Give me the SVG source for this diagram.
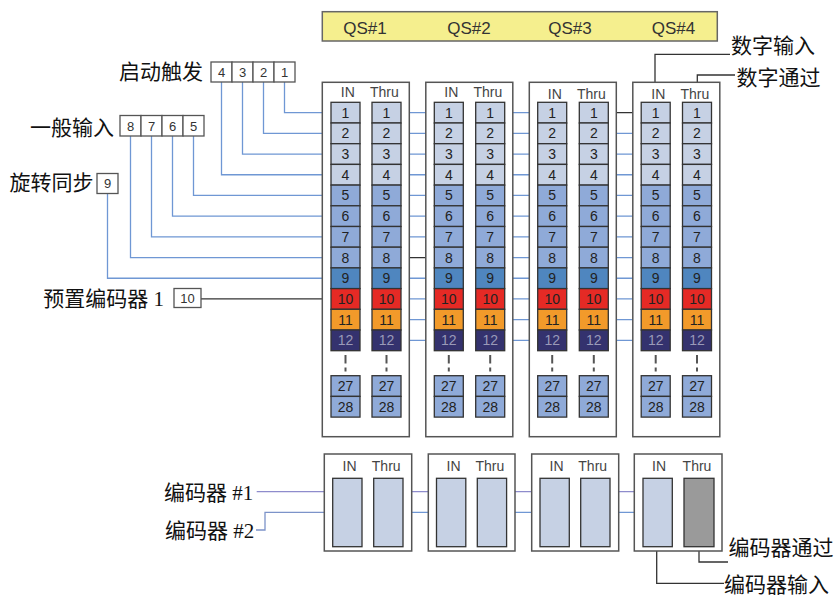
<svg xmlns="http://www.w3.org/2000/svg" width="834" height="602" viewBox="0 0 834 602">
<defs>
<style>
.mod{fill:#fff;stroke:#555;stroke-width:1.5}
.cell{stroke:#333;stroke-width:1.3}
.c1{fill:#c6d1e4}.c5{fill:#8faad8}.c9{fill:#4f86bf}.c10{fill:#e52a25}.c11{fill:#f29a2a}.c12{fill:#34326e}.cg{fill:#9a9a9a}.cb{fill:#c6d1e4}
.n{font-family:"Liberation Sans",Arial,sans-serif;font-size:14px;fill:#222;text-anchor:middle}
.n12{fill:#9a9ab8}
.hd{font-family:"Liberation Sans",Arial,sans-serif;font-size:14px;fill:#444;text-anchor:middle}
.qs{font-family:"Liberation Sans",Arial,sans-serif;font-size:17px;fill:#333;text-anchor:middle}
.lb{font-family:"Liberation Serif","Noto Sans CJK SC",serif;font-size:21px;fill:#111}
.bx{fill:#fff;stroke:#555;stroke-width:1.3}
.bn{font-family:"Liberation Sans",Arial,sans-serif;font-size:13px;fill:#333;text-anchor:middle}
.bl{fill:none;stroke:#6f97d4;stroke-width:1.3}
.bk{fill:none;stroke:#333;stroke-width:1.3}
.pu{fill:none;stroke:#8e8ccc;stroke-width:1.3}
.ds{stroke:#555;stroke-width:2}
</style>
</defs>

<g id="qs-bar">
<rect x="322.3" y="11.7" width="395" height="29.3" fill="#f5ef8e" stroke="#666" stroke-width="1.5"/>
<text class="qs" x="365" y="33.5">QS#1</text>
<text class="qs" x="469" y="33.5">QS#2</text>
<text class="qs" x="570" y="33.5">QS#3</text>
<text class="qs" x="673.5" y="33.5">QS#4</text>
</g>

<g id="connectors">
<polyline class="bl" points="284.5,82 284.5,112.65 331,112.65"/>
<polyline class="bl" points="263.5,82 263.5,133.35 331,133.35"/>
<polyline class="bl" points="242.5,82 242.5,154.05 331,154.05"/>
<polyline class="bl" points="221.5,82 221.5,174.75 331,174.75"/>
<polyline class="bl" points="193.5,136 193.5,195.45 331,195.45"/>
<polyline class="bl" points="172.5,136 172.5,216.15 331,216.15"/>
<polyline class="bl" points="151.5,136 151.5,236.85 331,236.85"/>
<polyline class="bl" points="130.5,136 130.5,257.55 331,257.55"/>
<polyline class="bl" points="107.5,193.5 107.5,278.25 331,278.25"/>
<line class="bk" x1="201" y1="298.95" x2="331" y2="298.95"/>
<path class="bl" d="M401,112.65H434.2M401,133.35H434.2M401,154.05H434.2M401,174.75H434.2M401,195.45H434.2M401,216.15H434.2M401,236.85H434.2M401,278.25H434.2M401,298.95H434.2M401,319.65H434.2M401,340.35H434.2"/>
<line class="bk" x1="401" y1="257.55" x2="434.2" y2="257.55"/>
<path class="bl" d="M504.7,112.65H537.7M504.7,133.35H537.7M504.7,154.05H537.7M504.7,174.75H537.7M504.7,195.45H537.7M504.7,216.15H537.7M504.7,236.85H537.7M504.7,257.55H537.7M504.7,278.25H537.7M504.7,298.95H537.7M504.7,319.65H537.7M504.7,340.35H537.7"/>
<path class="bl" d="M608.3,133.35H641.2M608.3,154.05H641.2M608.3,174.75H641.2M608.3,195.45H641.2M608.3,216.15H641.2M608.3,236.85H641.2M608.3,257.55H641.2M608.3,278.25H641.2M608.3,298.95H641.2M608.3,319.65H641.2M608.3,340.35H641.2"/>
<line class="bk" x1="608.3" y1="112.65" x2="641.2" y2="112.65"/>
<polyline class="bk" points="655,82.3 655,54.3 730,54.3"/>
<polyline class="bk" points="697.3,82.3 697.3,75 735,75"/>
<line class="pu" x1="256.7" y1="491.7" x2="332.5" y2="491.7"/>
<polyline fill="none" stroke="#7c93c9" stroke-width="1.3" points="256,530 265,530 265,512.3 332.5,512.3"/>
<path class="pu" d="M403,491.7H436.5M506.5,491.7H540M610,491.7H643"/>
<path class="bl" d="M403,512.3H436.5M506.5,512.3H540M610,512.3H643"/>
<polyline class="bk" points="699,546.7 699,562 728,562"/>
<polyline class="bk" points="656.7,546.7 656.7,583.3 724,583.3"/>
</g>

<g id="label-trigger">
<text class="lb" x="203" y="78.7" text-anchor="end">启动触发</text>
<rect class="bx" x="211" y="62" width="21" height="20"/><text class="bn" x="221.5" y="76.7">4</text>
<rect class="bx" x="232" y="62" width="21" height="20"/><text class="bn" x="242.5" y="76.7">3</text>
<rect class="bx" x="253" y="62" width="21" height="20"/><text class="bn" x="263.5" y="76.7">2</text>
<rect class="bx" x="274" y="62" width="21" height="20"/><text class="bn" x="284.5" y="76.7">1</text>
</g>
<g id="label-general">
<text class="lb" x="114" y="134.7" text-anchor="end">一般输入</text>
<rect class="bx" x="120" y="115.5" width="21" height="20.5"/><text class="bn" x="130.5" y="130.5">8</text>
<rect class="bx" x="141" y="115.5" width="21" height="20.5"/><text class="bn" x="151.5" y="130.5">7</text>
<rect class="bx" x="162" y="115.5" width="21" height="20.5"/><text class="bn" x="172.5" y="130.5">6</text>
<rect class="bx" x="183" y="115.5" width="21" height="20.5"/><text class="bn" x="193.5" y="130.5">5</text>
</g>
<g id="label-sync">
<text class="lb" x="93.5" y="189.7" text-anchor="end">旋转同步</text>
<rect class="bx" x="97" y="173.5" width="21" height="20"/><text class="bn" x="107.5" y="188.2">9</text>
</g>
<g id="label-preset">
<text class="lb" x="164" y="305.5" text-anchor="end">预置编码器 1</text>
<rect class="bx" x="174" y="288.5" width="27" height="19"/><text class="bn" x="187.5" y="302.7">10</text>
</g>
<g id="label-digital">
<text class="lb" x="731" y="53">数字输入</text>
<text class="lb" x="736.5" y="85.3">数字通过</text>
</g>
<g id="label-encoders">
<text class="lb" x="164" y="499.7">编码器 #1</text>
<text class="lb" x="165" y="538">编码器 #2</text>
<text class="lb" x="728.5" y="555.3">编码器通过</text>
<text class="lb" x="724" y="592">编码器输入</text>
</g>

<g id="qs1">
<rect class="mod" x="322.3" y="82.3" width="87" height="354.4"/>
<text class="hd" x="347.8" y="96.8">IN</text><text class="hd" x="384.3" y="96.8">Thru</text>
<g transform="translate(331,0)">
<rect class="cell c1" x="0" y="102.3" width="29" height="20.7"/><text class="n" x="14.5" y="117.6">1</text>
<rect class="cell c1" x="0" y="123" width="29" height="20.7"/><text class="n" x="14.5" y="138.3">2</text>
<rect class="cell c1" x="0" y="143.7" width="29" height="20.7"/><text class="n" x="14.5" y="159">3</text>
<rect class="cell c1" x="0" y="164.4" width="29" height="20.7"/><text class="n" x="14.5" y="179.7">4</text>
<rect class="cell c5" x="0" y="185.1" width="29" height="20.7"/><text class="n" x="14.5" y="200.4">5</text>
<rect class="cell c5" x="0" y="205.8" width="29" height="20.7"/><text class="n" x="14.5" y="221.1">6</text>
<rect class="cell c5" x="0" y="226.5" width="29" height="20.7"/><text class="n" x="14.5" y="241.8">7</text>
<rect class="cell c5" x="0" y="247.2" width="29" height="20.7"/><text class="n" x="14.5" y="262.5">8</text>
<rect class="cell c9" x="0" y="267.9" width="29" height="20.7"/><text class="n" x="14.5" y="283.2">9</text>
<rect class="cell c10" x="0" y="288.6" width="29" height="20.7"/><text class="n" x="14.5" y="303.9">10</text>
<rect class="cell c11" x="0" y="309.3" width="29" height="20.7"/><text class="n" x="14.5" y="324.6">11</text>
<rect class="cell c12" x="0" y="330" width="29" height="20.7"/><text class="n n12" x="14.5" y="345.3">12</text>
<line class="ds" x1="14.5" y1="355" x2="14.5" y2="363.5"/><line class="ds" x1="14.5" y1="367.5" x2="14.5" y2="371.5"/>
<rect class="cell c5" x="0" y="375.7" width="29" height="20.7"/><text class="n" x="14.5" y="391">27</text>
<rect class="cell c5" x="0" y="396.4" width="29" height="20.7"/><text class="n" x="14.5" y="411.7">28</text>
</g>
<g transform="translate(372,0)">
<rect class="cell c1" x="0" y="102.3" width="29" height="20.7"/><text class="n" x="14.5" y="117.6">1</text>
<rect class="cell c1" x="0" y="123" width="29" height="20.7"/><text class="n" x="14.5" y="138.3">2</text>
<rect class="cell c1" x="0" y="143.7" width="29" height="20.7"/><text class="n" x="14.5" y="159">3</text>
<rect class="cell c1" x="0" y="164.4" width="29" height="20.7"/><text class="n" x="14.5" y="179.7">4</text>
<rect class="cell c5" x="0" y="185.1" width="29" height="20.7"/><text class="n" x="14.5" y="200.4">5</text>
<rect class="cell c5" x="0" y="205.8" width="29" height="20.7"/><text class="n" x="14.5" y="221.1">6</text>
<rect class="cell c5" x="0" y="226.5" width="29" height="20.7"/><text class="n" x="14.5" y="241.8">7</text>
<rect class="cell c5" x="0" y="247.2" width="29" height="20.7"/><text class="n" x="14.5" y="262.5">8</text>
<rect class="cell c9" x="0" y="267.9" width="29" height="20.7"/><text class="n" x="14.5" y="283.2">9</text>
<rect class="cell c10" x="0" y="288.6" width="29" height="20.7"/><text class="n" x="14.5" y="303.9">10</text>
<rect class="cell c11" x="0" y="309.3" width="29" height="20.7"/><text class="n" x="14.5" y="324.6">11</text>
<rect class="cell c12" x="0" y="330" width="29" height="20.7"/><text class="n n12" x="14.5" y="345.3">12</text>
<line class="ds" x1="14.5" y1="355" x2="14.5" y2="363.5"/><line class="ds" x1="14.5" y1="367.5" x2="14.5" y2="371.5"/>
<rect class="cell c5" x="0" y="375.7" width="29" height="20.7"/><text class="n" x="14.5" y="391">27</text>
<rect class="cell c5" x="0" y="396.4" width="29" height="20.7"/><text class="n" x="14.5" y="411.7">28</text>
</g>
</g>

<g id="qs2">
<rect class="mod" x="425.8" y="82.3" width="87" height="354.4"/>
<text class="hd" x="451.3" y="96.8">IN</text><text class="hd" x="487.8" y="96.8">Thru</text>
<g transform="translate(434.3,0)">
<rect class="cell c1" x="0" y="102.3" width="29" height="20.7"/><text class="n" x="14.5" y="117.6">1</text>
<rect class="cell c1" x="0" y="123" width="29" height="20.7"/><text class="n" x="14.5" y="138.3">2</text>
<rect class="cell c1" x="0" y="143.7" width="29" height="20.7"/><text class="n" x="14.5" y="159">3</text>
<rect class="cell c1" x="0" y="164.4" width="29" height="20.7"/><text class="n" x="14.5" y="179.7">4</text>
<rect class="cell c5" x="0" y="185.1" width="29" height="20.7"/><text class="n" x="14.5" y="200.4">5</text>
<rect class="cell c5" x="0" y="205.8" width="29" height="20.7"/><text class="n" x="14.5" y="221.1">6</text>
<rect class="cell c5" x="0" y="226.5" width="29" height="20.7"/><text class="n" x="14.5" y="241.8">7</text>
<rect class="cell c5" x="0" y="247.2" width="29" height="20.7"/><text class="n" x="14.5" y="262.5">8</text>
<rect class="cell c9" x="0" y="267.9" width="29" height="20.7"/><text class="n" x="14.5" y="283.2">9</text>
<rect class="cell c10" x="0" y="288.6" width="29" height="20.7"/><text class="n" x="14.5" y="303.9">10</text>
<rect class="cell c11" x="0" y="309.3" width="29" height="20.7"/><text class="n" x="14.5" y="324.6">11</text>
<rect class="cell c12" x="0" y="330" width="29" height="20.7"/><text class="n n12" x="14.5" y="345.3">12</text>
<line class="ds" x1="14.5" y1="355" x2="14.5" y2="363.5"/><line class="ds" x1="14.5" y1="367.5" x2="14.5" y2="371.5"/>
<rect class="cell c5" x="0" y="375.7" width="29" height="20.7"/><text class="n" x="14.5" y="391">27</text>
<rect class="cell c5" x="0" y="396.4" width="29" height="20.7"/><text class="n" x="14.5" y="411.7">28</text>
</g>
<g transform="translate(475.7,0)">
<rect class="cell c1" x="0" y="102.3" width="29" height="20.7"/><text class="n" x="14.5" y="117.6">1</text>
<rect class="cell c1" x="0" y="123" width="29" height="20.7"/><text class="n" x="14.5" y="138.3">2</text>
<rect class="cell c1" x="0" y="143.7" width="29" height="20.7"/><text class="n" x="14.5" y="159">3</text>
<rect class="cell c1" x="0" y="164.4" width="29" height="20.7"/><text class="n" x="14.5" y="179.7">4</text>
<rect class="cell c5" x="0" y="185.1" width="29" height="20.7"/><text class="n" x="14.5" y="200.4">5</text>
<rect class="cell c5" x="0" y="205.8" width="29" height="20.7"/><text class="n" x="14.5" y="221.1">6</text>
<rect class="cell c5" x="0" y="226.5" width="29" height="20.7"/><text class="n" x="14.5" y="241.8">7</text>
<rect class="cell c5" x="0" y="247.2" width="29" height="20.7"/><text class="n" x="14.5" y="262.5">8</text>
<rect class="cell c9" x="0" y="267.9" width="29" height="20.7"/><text class="n" x="14.5" y="283.2">9</text>
<rect class="cell c10" x="0" y="288.6" width="29" height="20.7"/><text class="n" x="14.5" y="303.9">10</text>
<rect class="cell c11" x="0" y="309.3" width="29" height="20.7"/><text class="n" x="14.5" y="324.6">11</text>
<rect class="cell c12" x="0" y="330" width="29" height="20.7"/><text class="n n12" x="14.5" y="345.3">12</text>
<line class="ds" x1="14.5" y1="355" x2="14.5" y2="363.5"/><line class="ds" x1="14.5" y1="367.5" x2="14.5" y2="371.5"/>
<rect class="cell c5" x="0" y="375.7" width="29" height="20.7"/><text class="n" x="14.5" y="391">27</text>
<rect class="cell c5" x="0" y="396.4" width="29" height="20.7"/><text class="n" x="14.5" y="411.7">28</text>
</g>
</g>

<g id="qs3">
<rect class="mod" x="529.3" y="82.3" width="87" height="354.4"/>
<text class="hd" x="554.8" y="99">IN</text><text class="hd" x="591.3" y="99">Thru</text>
<g transform="translate(537.7,0)">
<rect class="cell c1" x="0" y="102.3" width="29" height="20.7"/><text class="n" x="14.5" y="117.6">1</text>
<rect class="cell c1" x="0" y="123" width="29" height="20.7"/><text class="n" x="14.5" y="138.3">2</text>
<rect class="cell c1" x="0" y="143.7" width="29" height="20.7"/><text class="n" x="14.5" y="159">3</text>
<rect class="cell c1" x="0" y="164.4" width="29" height="20.7"/><text class="n" x="14.5" y="179.7">4</text>
<rect class="cell c5" x="0" y="185.1" width="29" height="20.7"/><text class="n" x="14.5" y="200.4">5</text>
<rect class="cell c5" x="0" y="205.8" width="29" height="20.7"/><text class="n" x="14.5" y="221.1">6</text>
<rect class="cell c5" x="0" y="226.5" width="29" height="20.7"/><text class="n" x="14.5" y="241.8">7</text>
<rect class="cell c5" x="0" y="247.2" width="29" height="20.7"/><text class="n" x="14.5" y="262.5">8</text>
<rect class="cell c9" x="0" y="267.9" width="29" height="20.7"/><text class="n" x="14.5" y="283.2">9</text>
<rect class="cell c10" x="0" y="288.6" width="29" height="20.7"/><text class="n" x="14.5" y="303.9">10</text>
<rect class="cell c11" x="0" y="309.3" width="29" height="20.7"/><text class="n" x="14.5" y="324.6">11</text>
<rect class="cell c12" x="0" y="330" width="29" height="20.7"/><text class="n n12" x="14.5" y="345.3">12</text>
<line class="ds" x1="14.5" y1="355" x2="14.5" y2="363.5"/><line class="ds" x1="14.5" y1="367.5" x2="14.5" y2="371.5"/>
<rect class="cell c5" x="0" y="375.7" width="29" height="20.7"/><text class="n" x="14.5" y="391">27</text>
<rect class="cell c5" x="0" y="396.4" width="29" height="20.7"/><text class="n" x="14.5" y="411.7">28</text>
</g>
<g transform="translate(579.3,0)">
<rect class="cell c1" x="0" y="102.3" width="29" height="20.7"/><text class="n" x="14.5" y="117.6">1</text>
<rect class="cell c1" x="0" y="123" width="29" height="20.7"/><text class="n" x="14.5" y="138.3">2</text>
<rect class="cell c1" x="0" y="143.7" width="29" height="20.7"/><text class="n" x="14.5" y="159">3</text>
<rect class="cell c1" x="0" y="164.4" width="29" height="20.7"/><text class="n" x="14.5" y="179.7">4</text>
<rect class="cell c5" x="0" y="185.1" width="29" height="20.7"/><text class="n" x="14.5" y="200.4">5</text>
<rect class="cell c5" x="0" y="205.8" width="29" height="20.7"/><text class="n" x="14.5" y="221.1">6</text>
<rect class="cell c5" x="0" y="226.5" width="29" height="20.7"/><text class="n" x="14.5" y="241.8">7</text>
<rect class="cell c5" x="0" y="247.2" width="29" height="20.7"/><text class="n" x="14.5" y="262.5">8</text>
<rect class="cell c9" x="0" y="267.9" width="29" height="20.7"/><text class="n" x="14.5" y="283.2">9</text>
<rect class="cell c10" x="0" y="288.6" width="29" height="20.7"/><text class="n" x="14.5" y="303.9">10</text>
<rect class="cell c11" x="0" y="309.3" width="29" height="20.7"/><text class="n" x="14.5" y="324.6">11</text>
<rect class="cell c12" x="0" y="330" width="29" height="20.7"/><text class="n n12" x="14.5" y="345.3">12</text>
<line class="ds" x1="14.5" y1="355" x2="14.5" y2="363.5"/><line class="ds" x1="14.5" y1="367.5" x2="14.5" y2="371.5"/>
<rect class="cell c5" x="0" y="375.7" width="29" height="20.7"/><text class="n" x="14.5" y="391">27</text>
<rect class="cell c5" x="0" y="396.4" width="29" height="20.7"/><text class="n" x="14.5" y="411.7">28</text>
</g>
</g>

<g id="qs4">
<rect class="mod" x="632.8" y="82.3" width="87" height="354.4"/>
<text class="hd" x="658.3" y="99">IN</text><text class="hd" x="694.8" y="99">Thru</text>
<g transform="translate(641.2,0)">
<rect class="cell c1" x="0" y="102.3" width="29" height="20.7"/><text class="n" x="14.5" y="117.6">1</text>
<rect class="cell c1" x="0" y="123" width="29" height="20.7"/><text class="n" x="14.5" y="138.3">2</text>
<rect class="cell c1" x="0" y="143.7" width="29" height="20.7"/><text class="n" x="14.5" y="159">3</text>
<rect class="cell c1" x="0" y="164.4" width="29" height="20.7"/><text class="n" x="14.5" y="179.7">4</text>
<rect class="cell c5" x="0" y="185.1" width="29" height="20.7"/><text class="n" x="14.5" y="200.4">5</text>
<rect class="cell c5" x="0" y="205.8" width="29" height="20.7"/><text class="n" x="14.5" y="221.1">6</text>
<rect class="cell c5" x="0" y="226.5" width="29" height="20.7"/><text class="n" x="14.5" y="241.8">7</text>
<rect class="cell c5" x="0" y="247.2" width="29" height="20.7"/><text class="n" x="14.5" y="262.5">8</text>
<rect class="cell c9" x="0" y="267.9" width="29" height="20.7"/><text class="n" x="14.5" y="283.2">9</text>
<rect class="cell c10" x="0" y="288.6" width="29" height="20.7"/><text class="n" x="14.5" y="303.9">10</text>
<rect class="cell c11" x="0" y="309.3" width="29" height="20.7"/><text class="n" x="14.5" y="324.6">11</text>
<rect class="cell c12" x="0" y="330" width="29" height="20.7"/><text class="n n12" x="14.5" y="345.3">12</text>
<line class="ds" x1="14.5" y1="355" x2="14.5" y2="363.5"/><line class="ds" x1="14.5" y1="367.5" x2="14.5" y2="371.5"/>
<rect class="cell c5" x="0" y="375.7" width="29" height="20.7"/><text class="n" x="14.5" y="391">27</text>
<rect class="cell c5" x="0" y="396.4" width="29" height="20.7"/><text class="n" x="14.5" y="411.7">28</text>
</g>
<g transform="translate(682.5,0)">
<rect class="cell c1" x="0" y="102.3" width="29" height="20.7"/><text class="n" x="14.5" y="117.6">1</text>
<rect class="cell c1" x="0" y="123" width="29" height="20.7"/><text class="n" x="14.5" y="138.3">2</text>
<rect class="cell c1" x="0" y="143.7" width="29" height="20.7"/><text class="n" x="14.5" y="159">3</text>
<rect class="cell c1" x="0" y="164.4" width="29" height="20.7"/><text class="n" x="14.5" y="179.7">4</text>
<rect class="cell c5" x="0" y="185.1" width="29" height="20.7"/><text class="n" x="14.5" y="200.4">5</text>
<rect class="cell c5" x="0" y="205.8" width="29" height="20.7"/><text class="n" x="14.5" y="221.1">6</text>
<rect class="cell c5" x="0" y="226.5" width="29" height="20.7"/><text class="n" x="14.5" y="241.8">7</text>
<rect class="cell c5" x="0" y="247.2" width="29" height="20.7"/><text class="n" x="14.5" y="262.5">8</text>
<rect class="cell c9" x="0" y="267.9" width="29" height="20.7"/><text class="n" x="14.5" y="283.2">9</text>
<rect class="cell c10" x="0" y="288.6" width="29" height="20.7"/><text class="n" x="14.5" y="303.9">10</text>
<rect class="cell c11" x="0" y="309.3" width="29" height="20.7"/><text class="n" x="14.5" y="324.6">11</text>
<rect class="cell c12" x="0" y="330" width="29" height="20.7"/><text class="n n12" x="14.5" y="345.3">12</text>
<line class="ds" x1="14.5" y1="355" x2="14.5" y2="363.5"/><line class="ds" x1="14.5" y1="367.5" x2="14.5" y2="371.5"/>
<rect class="cell c5" x="0" y="375.7" width="29" height="20.7"/><text class="n" x="14.5" y="391">27</text>
<rect class="cell c5" x="0" y="396.4" width="29" height="20.7"/><text class="n" x="14.5" y="411.7">28</text>
</g>
</g>

<g id="enc1">
<rect class="mod" x="324.3" y="454" width="87.4" height="97"/>
<text class="hd" x="349.5" y="470.8">IN</text><text class="hd" x="386.2" y="470.8">Thru</text>
<rect class="cell cb" x="332.7" y="478.3" width="29.3" height="68.4"/>
<rect class="cell cb" x="373.7" y="478.3" width="29.3" height="68.4"/>
</g>
<g id="enc2">
<rect class="mod" x="428.3" y="454" width="86.7" height="97"/>
<text class="hd" x="453.5" y="470.8">IN</text><text class="hd" x="489.8" y="470.8">Thru</text>
<rect class="cell cb" x="436.5" y="478.3" width="29.3" height="68.4"/>
<rect class="cell cb" x="477.3" y="478.3" width="29.3" height="68.4"/>
</g>
<g id="enc3">
<rect class="mod" x="531.7" y="454" width="87" height="97"/>
<text class="hd" x="556.5" y="470.8">IN</text><text class="hd" x="592.7" y="470.8">Thru</text>
<rect class="cell cb" x="540" y="478.3" width="29.3" height="68.4"/>
<rect class="cell cb" x="580.7" y="478.3" width="29.3" height="68.4"/>
</g>
<g id="enc4">
<rect class="mod" x="634.3" y="454" width="87.7" height="97"/>
<text class="hd" x="659" y="470.8">IN</text><text class="hd" x="697" y="470.8">Thru</text>
<rect class="cell cb" x="643" y="478.3" width="29.3" height="68.4"/>
<rect class="cell cg" x="684" y="478.3" width="30" height="68.4"/>
</g>
</svg>
